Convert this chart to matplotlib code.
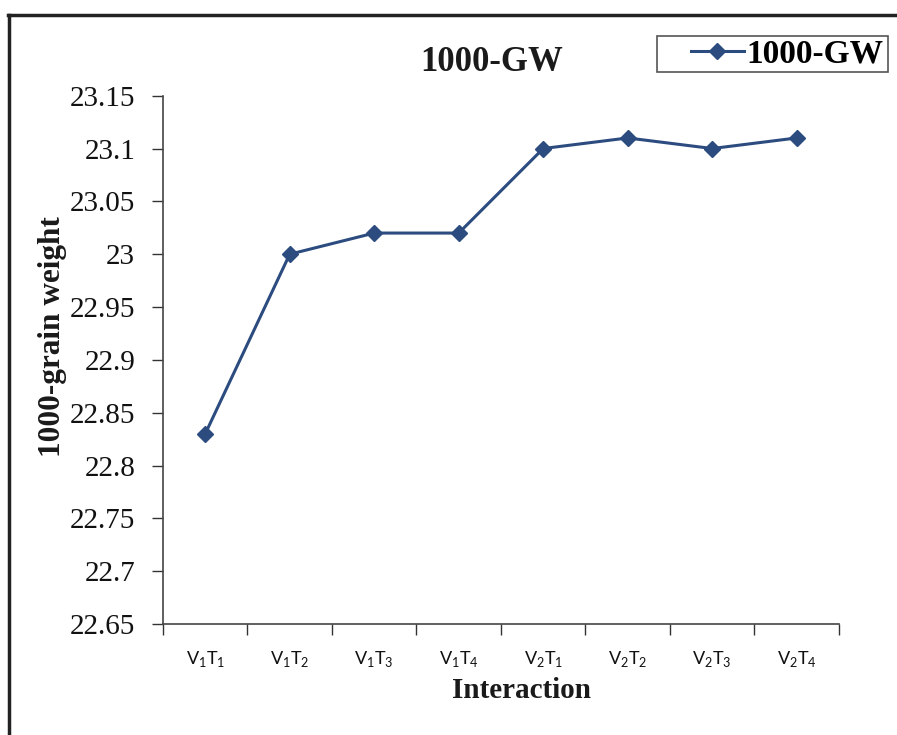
import matplotlib
matplotlib.use("Agg")
import matplotlib.pyplot as plt
from matplotlib.lines import Line2D
from matplotlib.patches import Rectangle

# Data
categories = ["V1T1", "V1T2", "V1T3", "V1T4", "V2T1", "V2T2", "V2T3", "V2T4"]
tick_labels = [r"V$_\mathregular{1}$T$_\mathregular{1}$", r"V$_\mathregular{1}$T$_\mathregular{2}$",
               r"V$_\mathregular{1}$T$_\mathregular{3}$", r"V$_\mathregular{1}$T$_\mathregular{4}$",
               r"V$_\mathregular{2}$T$_\mathregular{1}$", r"V$_\mathregular{2}$T$_\mathregular{2}$",
               r"V$_\mathregular{2}$T$_\mathregular{3}$", r"V$_\mathregular{2}$T$_\mathregular{4}$"]
grain_weight = [22.83, 23.00, 23.02, 23.02, 23.10, 23.11, 23.10, 23.11]
y_ticks = [22.65, 22.7, 22.75, 22.8, 22.85, 22.9, 22.95, 23.0, 23.05, 23.1, 23.15]
y_tick_labels = ["22.65", "22.7", "22.75", "22.8", "22.85", "22.9", "22.95", "23", "23.05", "23.1", "23.15"]

serif = "Liberation Serif"
line_color = "#2C4C80"

fig = plt.figure(figsize=(8.97, 7.35), dpi=100)
ax = fig.add_axes([0.1817, 0.151, 0.9353 - 0.1817, 0.8698 - 0.151])

x = list(range(len(categories)))
ax.plot(x, grain_weight, color=line_color, lw=2.2, marker="D", markersize=8,
        markerfacecolor=line_color, markeredgecolor=line_color, label="1000-GW")

ax.set_xlim(-0.5, len(categories) - 0.5)
ax.set_ylim(22.65, 23.15)

ax.set_yticks(y_ticks)
ax.set_yticklabels(y_tick_labels, fontfamily=serif, fontsize=21)
ax.tick_params(axis="y", direction="out", length=8, width=1, pad=12, colors="#333333", labelcolor="#111111")

# category boundaries as major ticks, labels centred between them
ax.set_xticks([i - 0.5 for i in range(len(categories) + 1)])
ax.set_xticklabels([])
ax.set_xticks(x, minor=True)
ax.set_xticklabels(tick_labels, minor=True, fontfamily="Lato", fontsize=13)
ax.tick_params(axis="x", which="major", direction="out", length=8, width=1, colors="#333333")
ax.tick_params(axis="x", which="minor", length=0, pad=18, labelcolor="#111111")

for side in ("top", "right"):
    ax.spines[side].set_visible(False)
for side in ("left", "bottom"):
    ax.spines[side].set_color("#444444")
    ax.spines[side].set_linewidth(1.2)

ax.set_xlabel("Interaction", fontfamily=serif, fontsize=21, fontweight="bold", color="#1a1a1a")
ax.xaxis.set_label_coords(0.531, -0.1)
ax.set_ylabel("1000-grain weight", fontfamily=serif, fontsize=22.5, fontweight="bold", color="#1a1a1a")
ax.yaxis.set_label_coords(-0.142, 0.545)

fig.text(0.548, 0.915, "1000-GW", ha="center", va="center", fontfamily=serif,
         fontsize=25, fontweight="bold", color="#1a1a1a")

# legend box drawn as its own frame, entry placed inside it
fig.add_artist(Rectangle((0.7324, 0.902), 0.99 - 0.7324, 0.951 - 0.902, transform=fig.transFigure,
                         facecolor="white", edgecolor="#555555", lw=1.2))
handle = Line2D([], [], color=line_color, lw=2.2, marker="D", markersize=8,
                markerfacecolor=line_color, markeredgecolor=line_color)
leg = fig.legend([handle], ["1000-GW"], loc="center right", bbox_to_anchor=(0.985, 0.9265),
                 borderaxespad=0, frameon=False, handlelength=1.6,
                 handletextpad=0.08, borderpad=0.0,
                 prop={"family": serif, "size": 24, "weight": "bold"})

# page frame lines (top and left)
fig.add_artist(Line2D([0.009, 1.0], [0.980, 0.980], transform=fig.transFigure, color="#222222", lw=2.5))
fig.add_artist(Line2D([0.010, 0.010], [0.0, 0.980], transform=fig.transFigure, color="#222222", lw=2.5))

fig.savefig("out.png", dpi=100)
